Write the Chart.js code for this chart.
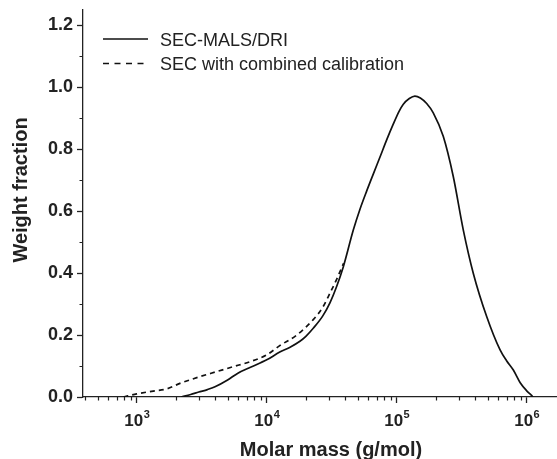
<!DOCTYPE html>
<html>
<head>
<meta charset="utf-8">
<script src="https://cdn.jsdelivr.net/npm/chart.js@4/dist/chart.umd.min.js"></script>
<style>
  html, body { margin: 0; padding: 0; background: #fff; }
  #wrap { width: 557px; height: 459px; position: relative; }
</style>
</head>
<body>
<div id="wrap"><canvas id="mwd"></canvas></div>
<script>
// data
var seriesNames = ['SEC-MALS/DRI', 'SEC with combined calibration'];

var malsMass = [2200, 2600, 3000, 3500, 4000, 5000, 6000, 7500, 10000, 12600, 15000, 18000, 20000, 22800, 27000,
  30700, 34500, 38800, 46400, 52000, 58700, 66000, 74500, 84000, 94200, 104000, 112000, 125000, 138000, 152000,
  170000, 191000, 228000, 272000, 325000, 388000, 492000, 624000, 700000, 789000, 891000, 1000000, 1090000, 1120000];
var malsFrac = [0, 0.008, 0.016, 0.024, 0.033, 0.055, 0.077, 0.096, 0.12, 0.145, 0.16, 0.18, 0.196, 0.222, 0.262,
  0.305, 0.357, 0.42, 0.54, 0.605, 0.665, 0.72, 0.776, 0.832, 0.882, 0.922, 0.945, 0.964, 0.972, 0.966,
  0.948, 0.918, 0.842, 0.713, 0.54, 0.40, 0.26, 0.152, 0.117, 0.087, 0.046, 0.02, 0.005, 0];

var combMass = [790, 1000, 1340, 1700, 2150, 2600, 3070, 4120, 5530, 7440, 10000, 12600, 17000, 22800, 27000, 30700, 34500, 39000];
var combFrac = [0, 0.01, 0.019, 0.026, 0.044, 0.056, 0.066, 0.082, 0.098, 0.114, 0.136, 0.166, 0.2, 0.25, 0.29, 0.336, 0.38, 0.432];

var yTicks = [0, 0.2, 0.4, 0.6, 0.8, 1.0, 1.2];
var yMinorTicks = [0.1, 0.3, 0.5, 0.7, 0.9, 1.1];
var xTickExp = ['3', '4', '5', '6'];
var xTitle = 'Molar mass (g/mol)';
var yTitle = 'Weight fraction';

var FONT = "'Liberation Sans', Arial, sans-serif";
var INK = '#222';
var xMin = 386, xMax = 1.68e6;

var xMajor = xTickExp.map(function (e) { return Math.pow(10, +e); });
var xMinor = [];
[100, 1000, 10000, 100000, 1000000].forEach(function (d) {
  for (var m = 2; m <= 9; m++) {
    if (m * d > xMin && m * d < xMax) xMinor.push(m * d);
  }
});

function pairs(xs, ys) {
  return xs.map(function (x, i) { return { x: x, y: ys[i] }; });
}

var decorations = {
  id: 'decorations',
  afterDraw: function (chart) {
    var ctx = chart.ctx, xs = chart.scales.x, ys = chart.scales.y, a = chart.chartArea;
    ctx.save();

    // minor ticks
    ctx.strokeStyle = INK;
    ctx.lineWidth = 1.2;
    ctx.beginPath();
    xMinor.forEach(function (v) {
      var px = Math.round(xs.getPixelForValue(v)) + 0.5;
      ctx.moveTo(px, a.bottom);
      ctx.lineTo(px, a.bottom + 3.5);
    });
    yMinorTicks.forEach(function (v) {
      var py = Math.round(ys.getPixelForValue(v)) + 0.5;
      ctx.moveTo(a.left, py);
      ctx.lineTo(a.left - 3.5, py);
    });
    ctx.stroke();

    // x tick labels: 10 with superscript exponent
    ctx.fillStyle = INK;
    ctx.textAlign = 'left';
    ctx.textBaseline = 'alphabetic';
    xTickExp.forEach(function (e, i) {
      var px = xs.getPixelForValue(xMajor[i]);
      ctx.font = 'bold 17px ' + FONT;
      var w1 = ctx.measureText('10').width;
      ctx.font = 'bold 11px ' + FONT;
      var w2 = ctx.measureText(e).width;
      var x0 = px - (w1 + w2) / 2;
      ctx.font = 'bold 17px ' + FONT;
      ctx.fillText('10', x0, a.bottom + 29);
      ctx.font = 'bold 11px ' + FONT;
      ctx.fillText(e, x0 + w1 + 0.5, a.bottom + 21);
    });

    // axis titles
    ctx.font = 'bold 20px ' + FONT;
    ctx.textAlign = 'center';
    ctx.fillText(xTitle, 331, a.bottom + 59);
    ctx.save();
    ctx.translate(21, 190);
    ctx.rotate(-Math.PI / 2);
    ctx.textBaseline = 'middle';
    ctx.fillText(yTitle, 0, 0);
    ctx.restore();

    // legend
    var lx = a.left + 20, rows = [a.top + 29, a.top + 53.5];
    ctx.lineWidth = 1.6;
    ctx.strokeStyle = '#111';
    rows.forEach(function (ry, i) {
      ctx.setLineDash(i === 0 ? [] : [6, 5.5]);
      ctx.beginPath();
      ctx.moveTo(lx, ry);
      ctx.lineTo(lx + 45, ry);
      ctx.stroke();
    });
    ctx.setLineDash([]);
    ctx.font = '18px ' + FONT;
    ctx.textAlign = 'left';
    ctx.textBaseline = 'alphabetic';
    ctx.fillText(seriesNames[0], lx + 57, rows[0] + 6.5);
    ctx.fillText(seriesNames[1], lx + 57, rows[1] + 6.5);

    ctx.restore();
  }
};

var ctx = document.getElementById('mwd').getContext('2d');

var mwdChart = new Chart(ctx, {
  type: 'line',
  data: {
    datasets: [{
      label: seriesNames[0],
      data: pairs(malsMass, malsFrac),
      borderColor: '#111',
      borderWidth: 1.7,
      pointRadius: 0,
      fill: false,
      cubicInterpolationMode: 'monotone'
    }, {
      label: seriesNames[1],
      data: pairs(combMass, combFrac),
      borderColor: '#111',
      borderWidth: 1.7,
      borderDash: [5, 4],
      pointRadius: 0,
      fill: false,
      cubicInterpolationMode: 'monotone'
    }]
  },
  options: {
    responsive: true,
    maintainAspectRatio: false,
    animation: false,
    layout: { padding: { top: 10, right: 1, left: 0, bottom: 0 } },
    plugins: {
      legend: { display: false },
      tooltip: { enabled: false }
    },
    scales: {
      x: {
        type: 'logarithmic',
        min: xMin,
        max: xMax,
        afterBuildTicks: function (scale) {
          scale.ticks = xMajor.map(function (v) { return { value: v }; });
        },
        afterFit: function (scale) {
          scale.height = 62;
          scale.paddingLeft = 0;
          scale.paddingRight = 0;
        },
        ticks: { display: false },
        grid: {
          display: true,
          drawOnChartArea: false,
          drawTicks: true,
          tickLength: 6,
          tickColor: INK,
          tickWidth: 1.3
        },
        border: { display: true, color: INK, width: 1.3 }
      },
      y: {
        type: 'linear',
        min: 0,
        max: 1.25,
        afterBuildTicks: function (scale) {
          scale.ticks = yTicks.map(function (v) { return { value: v }; });
        },
        afterFit: function (scale) {
          scale.width = 83;
          scale.paddingTop = 0;
          scale.paddingBottom = 0;
        },
        ticks: {
          color: INK,
          padding: 4,
          font: { family: FONT, size: 18, weight: 'bold' },
          callback: function (v) { return Number(v).toFixed(1); }
        },
        grid: {
          display: true,
          drawOnChartArea: false,
          drawTicks: true,
          tickLength: 6,
          tickColor: INK,
          tickWidth: 1.3
        },
        border: { display: true, color: INK, width: 1.3 }
      }
    }
  },
  plugins: [decorations]
});
</script>
</body>
</html>
